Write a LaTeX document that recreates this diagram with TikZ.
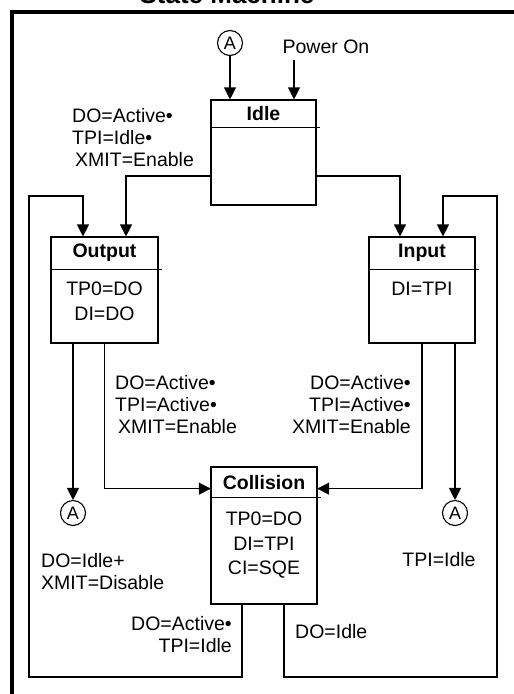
\documentclass[tikz,border=0pt]{standalone}
\usepackage{fontspec}
\setmainfont{Liberation Sans}
\usepackage{tikz}
\usetikzlibrary{arrows.meta,positioning}

\begin{document}
\begin{tikzpicture}[x=1pt,y=-1pt,
  box/.style={draw,line width=1.1pt,inner sep=0pt},
  head/.style={anchor=north,inner sep=0pt,minimum height=31pt,font=\fontsize{19.5}{22}\selectfont\bfseries},
  body/.style={align=center,inner sep=0pt,font=\fontsize{19.5}{24.5}\selectfont},
  lbl/.style={inner sep=0pt,font=\fontsize{19.5}{22}\selectfont},
  conn/.style={draw,circle,line width=1.1pt,minimum size=25pt,inner sep=0pt,font=\fontsize{18}{20}\selectfont},
  wire/.style={line width=1.1pt},
  arr/.style={-{Triangle[length=12pt,width=12pt]},line width=1.1pt}]
\useasboundingbox (0,0) rectangle (514,694);
\clip (0,0) rectangle (514,694);
\node[anchor=base,inner sep=0pt,font=\fontsize{26}{28}\selectfont\bfseries] (title) at (227,3) {State Machine};
\draw[line width=4pt] (11.5,700) |- (520,12);
% states
\node[box,minimum width=105pt,minimum height=105pt] (idle) at (263.5,152.5) {};
\node[head,minimum width=105pt,minimum height=28pt] (idlehd) at (idle.north) {Idle};
\draw[wire] (idlehd.south west) -- ([xshift=4pt]idlehd.south east);
\node[box,minimum width=107pt,minimum height=106pt] (output) at (104.5,290) {};
\node[head,minimum width=107pt,minimum height=33pt] (outhd) at (output.north) {Output};
\draw[wire] (outhd.south west) -- ([xshift=4pt]outhd.south east);
\node[body,below=12pt of outhd] (outbody) {TP0=DO\\DI=DO};
\node[box,minimum width=106pt,minimum height=106pt] (input) at (422,290) {};
\node[head,minimum width=106pt,minimum height=33pt] (inhd) at (input.north) {Input};
\draw[wire] (inhd.south west) -- ([xshift=4pt]inhd.south east);
\node[body,below=12pt of inhd] (inbody) {DI=TPI};
\node[box,minimum width=106pt,minimum height=137pt] (collision) at (264,535.5) {};
\node[head,minimum width=106pt] (colhd) at (collision.north) {Collision};
\draw[wire] (colhd.south west) -- ([xshift=4pt]colhd.south east);
\node[body,below=14pt of colhd] (colbody) {TP0=DO\\DI=TPI\\CI=SQE};
% connectors A and power on
\node[conn] (atop) at (230,43) {A};
\node[conn] (aleft) at (73,513) {A};
\node[conn] (aright) at (455,513) {A};
\node[lbl] (power) at (326,47) {Power On};
\coordinate (powerin) at (294,60);
% corners of the outer loops
\coordinate (loopLb) at (29,677);
\coordinate (loopLt) at (29,196);
\coordinate (loopRb) at (497,677);
\coordinate (loopRt) at (497,196);
% transitions
\draw[arr] (atop) -- (atop |- idle.north);
\draw[arr] (powerin) -- (powerin |- idle.north);
\draw[arr] ([yshift=-23.5pt]idle.west) -| ([xshift=21.5pt]output.north);
\draw[arr] ([yshift=-23.5pt]idle.east) -| ([xshift=-22pt]input.north);
\draw[arr] (aleft |- output.south) -- (aleft);
\draw[arr] (output.south) |- ([yshift=-6.5pt]colhd.west);
\draw[arr] (input.south) |- ([yshift=-6.5pt]colhd.east);
\draw[arr] (aright |- input.south) -- (aright);
\draw[arr] ([xshift=-22pt]collision.south) |- (loopLb) -- (loopLt) -| ([xshift=-21.5pt]output.north);
\draw[arr] ([xshift=20pt]collision.south) |- (loopRb) -- (loopRt) -| ([xshift=21pt]input.north);
% labels
\node[lbl,align=left,anchor=north west] (toout) at (72,108) {DO=Active•\\TPI=Idle•\\\hspace*{3pt}XMIT=Enable};
\node[lbl,align=left,anchor=north west] (outcol) at (115,375) {DO=Active•\\TPI=Active•\\\hspace*{3pt}XMIT=Enable};
\node[lbl,align=right,anchor=north east] (incol) at (411,375) {DO=Active•\\TPI=Active•\\XMIT=Enable};
\node[lbl,align=left,anchor=north west] (outidle) at (41,553) {DO=Idle+\\XMIT=Disable};
\node[lbl] (inidle) at (439,560) {TPI=Idle};
\node[lbl,align=right,anchor=north east] (colout) at (232,616) {DO=Active•\\TPI=Idle};
\node[lbl,anchor=west] (colin) at (295,632) {DO=Idle};
\end{tikzpicture}
\end{document}
